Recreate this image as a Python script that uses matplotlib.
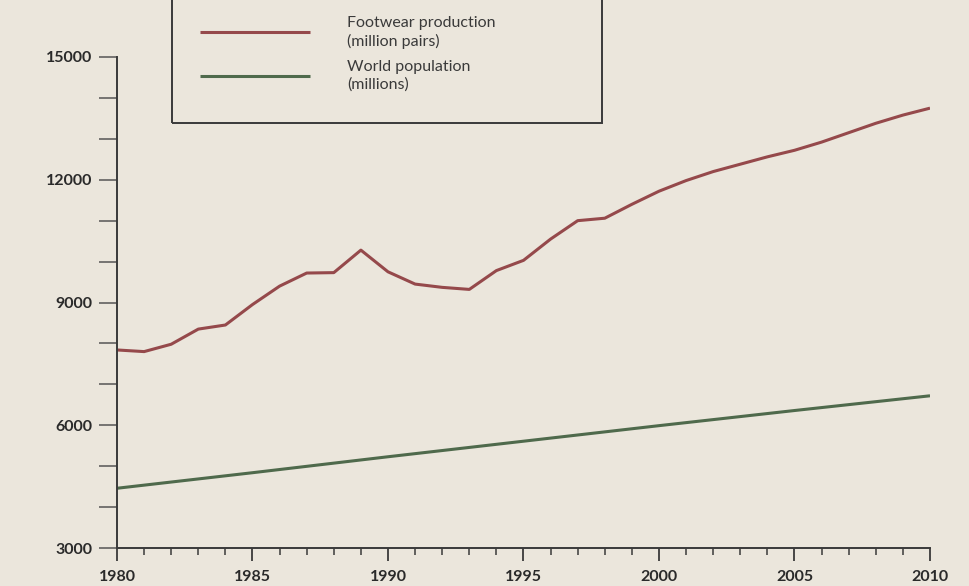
import matplotlib
matplotlib.use("Agg")
from matplotlib import pyplot as plt
from matplotlib.patches import Rectangle
from matplotlib.ticker import MultipleLocator

# values
years = list(range(1980, 2011))
footwear = [7840, 7800, 7980, 8350, 8450, 8950, 9400, 9720, 9730, 10280,
            9750, 9450, 9370, 9320, 9780, 10030, 10550, 11000, 11060, 11400,
            11720, 11980, 12200, 12380, 12560, 12720, 12920, 13150, 13380, 13580,
            13750]
pop_years = [1980, 1985, 1990, 1995, 2000, 2005, 2010]
population = [4460, 4840, 5230, 5610, 5990, 6360, 6720]

labels = ["Footwear production\n(million pairs)", "World population\n(millions)"]
x_ticks = [1980, 1985, 1990, 1995, 2000, 2005, 2010]
y_ticks = [3000, 6000, 9000, 12000, 15000]

bg = "#ebe6dc"
ink = "#3a3a3a"

plt.rcParams["font.family"] = ["Lato", "DejaVu Sans"]

fig = plt.figure(figsize=(9.69, 5.86), dpi=100, facecolor=bg)
ax = fig.add_axes([117 / 969, 1 - 548 / 586, (930 - 117) / 969, (548 - 57) / 586])
ax.set_facecolor(bg)

red_line, = ax.plot(years, footwear, color="#95494b", lw=2.2, solid_capstyle="butt")
green_line, = ax.plot(pop_years, population, color="#4f6a4c", lw=2.2, solid_capstyle="butt")

ax.set_xlim(1980, 2010)
ax.set_ylim(3000, 15000)
ax.set_xticks(x_ticks)
ax.set_yticks(y_ticks)
ax.xaxis.set_minor_locator(MultipleLocator(1))
ax.yaxis.set_minor_locator(MultipleLocator(1000))

for side in ["top", "right"]:
    ax.spines[side].set_visible(False)
for side in ["left", "bottom"]:
    ax.spines[side].set_color(ink)
    ax.spines[side].set_linewidth(1.4)

ax.tick_params(axis="x", which="major", length=9, width=1.3, color=ink, pad=7,
               labelsize=11.5, labelcolor="#2a2a2a")
ax.tick_params(axis="x", which="minor", length=5, width=1.1, color=ink)
ax.tick_params(axis="y", which="both", length=13, width=1.1, color="#555555", pad=5,
               labelsize=11.5, labelcolor="#2a2a2a")
for lab in ax.get_xticklabels() + ax.get_yticklabels():
    lab.set_fontweight("bold")

# legend box, its top runs off the page like in the scan
fig.patches.append(Rectangle((172 / 969, 1 - 123 / 586), (602 - 172) / 969, 0.3,
                             transform=fig.transFigure, fill=False,
                             edgecolor=ink, lw=1.4))
leg = fig.legend([red_line, green_line], labels, loc="upper left",
                 bbox_to_anchor=(200 / 969, 1 - 16 / 586), frameon=False,
                 borderpad=0, borderaxespad=0, handlelength=6.9, handletextpad=2.3,
                 labelspacing=0.72, fontsize=11.5, labelcolor="#3a3a3a")
for t in leg.get_texts():
    t.set_linespacing(1.3)

fig.savefig("out.png", dpi=100, facecolor=bg)
